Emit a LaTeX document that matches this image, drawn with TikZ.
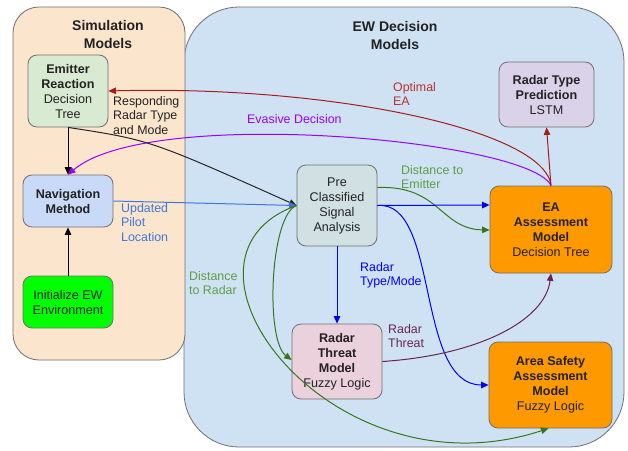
\documentclass[tikz,border=0pt]{standalone}
\usepackage{fontspec}
\setmainfont{Liberation Sans}
\usetikzlibrary{arrows.meta}
\definecolor{cPeach}{HTML}{FCE5CD}
\definecolor{cPanel}{HTML}{CFE2F3}
\definecolor{cLine}{HTML}{6F6F6F}
\definecolor{cEmit}{HTML}{D9EAD3}
\definecolor{cNav}{HTML}{C9DAF8}
\definecolor{cInit}{HTML}{00FF00}
\definecolor{cPre}{HTML}{D0E0E3}
\definecolor{cRtp}{HTML}{D9D2E9}
\definecolor{cOrange}{HTML}{FF9900}
\definecolor{cRtm}{HTML}{EAD1DC}
\definecolor{cRed}{HTML}{A61C1C}
\definecolor{cRedT}{HTML}{B8312F}
\definecolor{cPurple}{HTML}{9900FF}
\definecolor{cBlue}{HTML}{0000FF}
\definecolor{cBlueN}{HTML}{3C78D8}
\definecolor{cGreen}{HTML}{38761D}
\definecolor{cGreenT}{HTML}{5E9E45}
\definecolor{cMaroon}{HTML}{6B2450}
\definecolor{cText}{HTML}{222222}
\begin{document}
\begin{tikzpicture}[x=1pt,y=-1pt,
  box/.style={draw=cLine, line width=0.8pt, rounded corners=9pt, align=center,
    font=\fontsize{12.6}{15}\selectfont, text=cText, inner sep=2pt},
  lab/.style={align=left, font=\fontsize{12.4}{14.8}\selectfont, anchor=north west, inner sep=0pt},
  ttl/.style={align=center, font=\fontsize{14}{18}\selectfont\bfseries, text=cText},
  arr/.style={-{Triangle[length=7.5pt,width=6.5pt]}, line width=1pt},
  panel/.style={draw=cLine, line width=0.8pt}]
\useasboundingbox (0,0) rectangle (628,450);
\fill[white] (0,0) rectangle (628,450);
% panels
\draw[panel, fill=cPanel, rounded corners=55pt] (184,7) rectangle (624,447);
\draw[panel, fill=cPeach, rounded corners=26pt] (13,7) rectangle (185,360);
\node[ttl] (ttlsim) at (108,34) {Simulation\\Models};
\node[ttl] (ttlew) at (395,35) {EW Decision\\Models};
% nodes
\node[box, fill=cEmit, minimum width=80pt, minimum height=72pt] (emit) at (68,91)
  {\textbf{Emitter}\\\textbf{Reaction}\\Decision\\Tree};
\node[box, fill=cNav, minimum width=90pt, minimum height=52pt] (nav) at (68,201)
  {\textbf{Navigation}\\\textbf{Method}};
\node[box, fill=cInit, minimum width=90pt, minimum height=52pt] (init) at (68,302)
  {Initialize EW\\Environment};
\node[box, fill=cPre, minimum width=80pt, minimum height=81pt] (pre) at (337,205.5)
  {Pre\\Classified\\Signal\\Analysis};
\node[box, fill=cRtp, minimum width=95pt, minimum height=65pt] (rtp) at (546.5,94.5)
  {\textbf{Radar Type}\\\textbf{Prediction}\\LSTM};
\node[box, fill=cOrange, minimum width=122pt, minimum height=87pt] (ea) at (551,229.5)
  {\textbf{EA}\\\textbf{Assessment}\\\textbf{Model}\\Decision Tree};
\node[box, fill=cRtm, minimum width=90pt, minimum height=75pt] (rtm) at (337,361.5)
  {\textbf{Radar}\\\textbf{Threat}\\\textbf{Model}\\Fuzzy Logic};
\node[box, fill=cOrange, minimum width=123pt, minimum height=86pt] (area) at (550.5,385)
  {\textbf{Area Safety}\\\textbf{Assessment}\\\textbf{Model}\\Fuzzy Logic};
% connectors
\draw[arr, cRed] (ea.north) .. controls (545,130) and (330,85) .. (emit.east);
\draw[arr, cRed] (ea.north) -- (rtp.south);
\draw[arr, cPurple] (ea.north) .. controls (530,140) and (150,105) .. (nav.north);
\draw[arr, black] (emit.south) -- (nav.north);
\draw[arr, black] (init.north) -- (nav.south);
\draw[arr, black!85] (emit.south) .. controls (150,140) .. (pre.west);
\draw[arr, cBlueN] (nav.east) -- (pre.west);
\draw[arr, cGreen] ([yshift=18pt]pre.east) .. controls (440,185) and (440,229) .. ([yshift=-0.5pt]ea.west);
\draw[arr, cBlue] (pre.east) -- ([yshift=24.5pt]ea.west);
\draw[arr, cBlue] (pre.east) .. controls (440,200) and (415,385) .. (area.west);
\draw[arr, cBlue] (pre.south) -- (rtm.north);
\draw[arr, cGreen] (pre.west) .. controls (270,215) and (265,340) .. ([yshift=1.5pt]rtm.west);
\draw[arr, cGreen] (pre.west) .. controls (150,258) and (330,500) .. ([xshift=-2pt]area.south);
\draw[arr, cMaroon] (rtm.east) .. controls (480,355) and (545,320) .. (ea.south);
% labels
\node[lab, text=cText] (lresp) at (113,96) {Responding\\Radar Type\\and Mode};
\node[lab, text=cRedT] (lopt) at (393,82) {Optimal\\EA};
\node[lab, text=cPurple] (lev) at (247,114) {Evasive Decision};
\node[lab, text=cBlueN] (lupd) at (121,203) {Updated\\Pilot\\Location};
\node[lab, text=cGreenT] (lde) at (401,165) {Distance to\\Emitter};
\node[lab, text=cBlue] (lrtm) at (360,262) {Radar\\Type/Mode};
\node[lab, text=cGreenT] (ldr) at (189,271) {Distance\\to Radar};
\node[lab, text=cMaroon] (lrt) at (388,324) {Radar\\Threat};
\end{tikzpicture}
\end{document}
